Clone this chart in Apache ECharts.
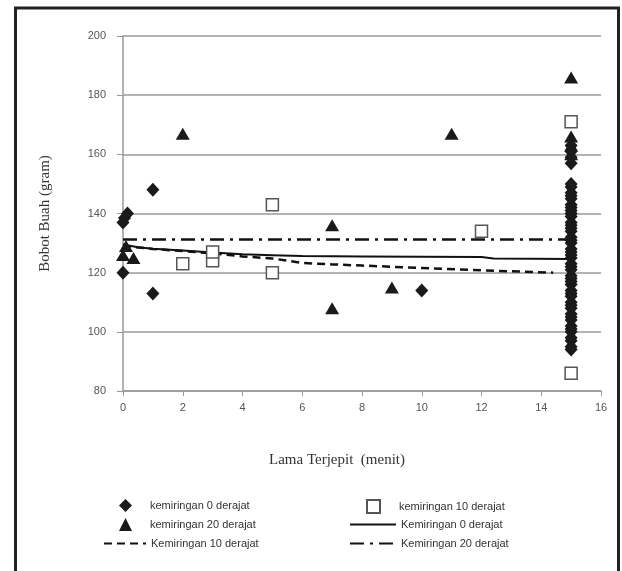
<!DOCTYPE html>
<html>
<head>
<meta charset="utf-8">
<script src="https://cdn.jsdelivr.net/npm/echarts@6/dist/echarts.min.js"></script>
<style>
  html, body { margin: 0; padding: 0; background: #fff; }
  #chart { width: 622px; height: 571px; }
</style>
</head>
<body>
<div id="chart"></div>
<script>
// tick labels
const xTicks = [0, 2, 4, 6, 8, 10, 12, 14, 16]
const yTicks = [80, 100, 120, 140, 160, 180, 200]

// kemiringan 0 derajat (diamonds)
const deg0X = [0, 0.05, 0.15, 0, 1, 1, 10]
const deg0Y = [137, 138.5, 140, 120, 148, 113, 114]
const deg0At15 = [94, 95, 97, 98, 100, 101, 102, 104, 105, 106, 108, 109, 110, 112, 113, 114,
  116, 117, 118, 119, 121, 122, 123, 125, 126, 127, 128, 130, 131, 132, 134, 135, 136, 137,
  139, 140, 141, 142, 143, 145, 146, 147, 149, 150, 157, 159, 161, 163]

// kemiringan 10 derajat (squares)
const deg10X = [2, 3, 3, 5, 5, 12, 15, 15]
const deg10Y = [123, 124, 127, 143, 120, 134, 171, 86]

// kemiringan 20 derajat (triangles)
const deg20X = [0, 0.1, 0.35, 2, 7, 7, 9, 11, 15, 15, 15, 15]
const deg20Y = [126, 129, 125, 167, 136, 108, 115, 167, 186, 166, 163, 160]

// trend lines
const trend0X = [0, 0.5, 1, 2, 3, 4, 5, 6, 8, 10, 12, 12.4, 15]
const trend0Y = [129.5, 128.6, 128.1, 127.5, 126.8, 126.2, 125.9, 125.6, 125.5, 125.4, 125.3, 124.8, 124.6]
const trend10X = [0, 1, 2, 3, 4, 5, 6, 7, 8, 10, 12, 14.4]
const trend10Y = [129, 128, 127.3, 126.5, 125.5, 124.8, 123.3, 122.8, 122.4, 121.6, 120.8, 120]
const trend20X = [0, 15]
const trend20Y = [131.2, 131.2]

const pairs = (xs, ys) => xs.map((x, i) => [x, ys[i]])
const deg0Data = pairs(deg0X, deg0Y).concat(deg0At15.map(v => [15, v]))

const chart = echarts.init(document.getElementById('chart'))
const axisColor = '#9a9a9a'
const ink = '#1a1a1a'
const labelFont = { fontFamily: 'Liberation Sans', fontSize: 11, color: '#555' }
const legendText = { fontFamily: 'Liberation Sans', fontSize: 11, color: '#333' }
const rowH = 19
const legendTop = 494

// markers: small icons, text pushed right to line up with the line items
const markerLegend = (left, top, pad, data) => ({
  orient: 'vertical', left, top, data,
  itemWidth: 13, itemHeight: 13, itemGap: rowH - 13,
  textStyle: { ...legendText, padding: [0, 0, 0, pad] }
})
// trend lines: hide the symbol that the line icon draws
const lineLegend = (left, top, width, data) => ({
  orient: 'vertical', left, top: top + 1, data,
  itemWidth: width, itemHeight: 13, itemGap: rowH - 11,
  itemStyle: { opacity: 0 },
  textStyle: legendText
})

chart.setOption({
  animation: false,
  grid: { left: 123, right: 21, top: 36, bottom: 180 },
  xAxis: {
    type: 'value',
    min: xTicks[0],
    max: xTicks[xTicks.length - 1],
    interval: 2,
    name: 'Lama Terjepit  (menit)',
    nameLocation: 'middle',
    nameGap: 62,
    nameTextStyle: { fontFamily: 'Liberation Serif', fontSize: 15, color: '#333', padding: [0, 50, 0, 0] },
    axisLine: { lineStyle: { color: axisColor, width: 1.5 } },
    axisTick: { length: 5, lineStyle: { color: axisColor } },
    axisLabel: { ...labelFont, margin: 11 },
    splitLine: { show: false }
  },
  yAxis: {
    type: 'value',
    min: yTicks[0],
    max: yTicks[yTicks.length - 1],
    interval: 20,
    name: 'Bobot Buah (gram)',
    nameLocation: 'middle',
    nameGap: 70,
    nameTextStyle: { fontFamily: 'Liberation Serif', fontSize: 15, color: '#333' },
    axisLine: { show: true, lineStyle: { color: axisColor, width: 1.5 } },
    axisTick: { show: true, length: 6, lineStyle: { color: axisColor } },
    axisLabel: { ...labelFont, margin: 17 },
    splitLine: { lineStyle: { color: axisColor, width: 1.5 } }
  },
  legend: [
    markerLegend(114, legendTop, 13, ['kemiringan 0 derajat', 'kemiringan 20 derajat']),
    lineLegend(98, legendTop + 2 * rowH, 42, ['Kemiringan 10 derajat']),
    markerLegend(361, legendTop, 14, ['kemiringan 10 derajat']),
    lineLegend(344, legendTop + rowH, 46, ['Kemiringan 0 derajat', 'Kemiringan 20 derajat'])
  ],
  graphic: [{
    type: 'rect',
    shape: { x: 15.5, y: 8, width: 603, height: 620 },
    style: { fill: 'none', stroke: '#222', lineWidth: 3 },
    silent: true
  }],
  series: [
    {
      name: 'Kemiringan 0 derajat',
      type: 'line',
      data: pairs(trend0X, trend0Y),
      symbol: 'none',
      lineStyle: { color: '#111', width: 2 },
      itemStyle: { color: '#111' },
      z: 3
    },
    {
      name: 'Kemiringan 10 derajat',
      type: 'line',
      data: pairs(trend10X, trend10Y),
      symbol: 'none',
      lineStyle: { color: '#111', width: 2.5, type: [8, 5] },
      itemStyle: { color: '#111' },
      z: 3
    },
    {
      name: 'Kemiringan 20 derajat',
      type: 'line',
      data: pairs(trend20X, trend20Y),
      symbol: 'none',
      lineStyle: { color: '#111', width: 2.5, type: [14, 6, 3, 6] },
      itemStyle: { color: '#111' },
      z: 3
    },
    {
      name: 'kemiringan 0 derajat',
      type: 'scatter',
      data: deg0Data,
      symbol: 'diamond',
      symbolSize: [13, 14],
      itemStyle: { color: ink, opacity: 1 },
      z: 4
    },
    {
      name: 'kemiringan 10 derajat',
      type: 'scatter',
      data: pairs(deg10X, deg10Y),
      symbol: 'rect',
      symbolSize: 12,
      itemStyle: { color: '#fff', borderColor: '#555', borderWidth: 1.5, opacity: 1 },
      z: 5
    },
    {
      name: 'kemiringan 20 derajat',
      type: 'scatter',
      data: pairs(deg20X, deg20Y),
      symbol: 'triangle',
      symbolSize: [14, 12],
      itemStyle: { color: ink, opacity: 1 },
      z: 4
    }
  ]
})
</script>
</body>
</html>
